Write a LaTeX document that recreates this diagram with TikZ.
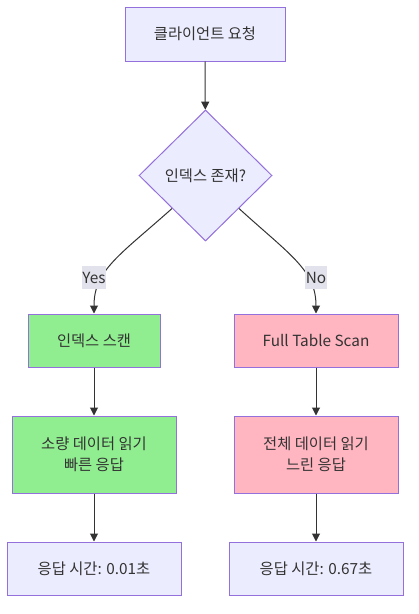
\documentclass[tikz,border=0pt]{standalone}
\usepackage{fontspec}
\setmainfont{Noto Sans CJK KR}
\usetikzlibrary{shapes.geometric,arrows.meta}
\definecolor{boxfill}{HTML}{ECECFF}
\definecolor{boxline}{HTML}{9370DB}
\definecolor{txt}{HTML}{333333}
\definecolor{greenfill}{HTML}{90EE90}
\definecolor{pinkfill}{HTML}{FFB6C1}
\definecolor{lblfill}{RGB}{226,226,236}
\tikzset{
  px/.style={x=0.75pt,y=-0.75pt},
  box/.style={draw=boxline,fill=boxfill,line width=0.75pt,text=txt,font=\fontsize{11.5pt}{16pt}\selectfont,align=center,inner sep=0pt},
  dec/.style={diamond,draw=boxline,fill=boxfill,line width=0.75pt,text=txt,font=\fontsize{11.5pt}{16pt}\selectfont,inner sep=0pt,minimum width=99.75pt,minimum height=98.25pt},
  lbl/.style={fill=lblfill,text=txt,font=\fontsize{11.5pt}{16pt}\selectfont,inner xsep=0.5pt,inner ysep=0pt,minimum height=17.25pt},
  conn/.style={draw=txt,line width=0.75pt,-{Triangle[length=6pt,width=6pt]}},
}
\begin{document}
\begin{tikzpicture}[px]
\useasboundingbox[fill=white] (0,0) rectangle (418,614);
\node[box,minimum width=120pt,minimum height=40.5pt] (top) at (205,34) {클라이언트 요청};
\node[dec] (d) at (205.5,175.5) {인덱스 존재?};
\node[box,fill=greenfill,minimum width=99pt,minimum height=39.75pt] (l1) at (94,340.5) {인덱스 스캔};
\node[box,fill=pinkfill,minimum width=123pt,minimum height=39.75pt] (r1) at (316,340.5) {Full Table Scan};
\node[box,fill=greenfill,minimum width=123pt,minimum height=57.75pt] (l2) at (94,454.5) {소량 데이터 읽기\\빠른 응답};
\node[box,fill=pinkfill,minimum width=123pt,minimum height=57.75pt] (r2) at (316,454.5) {전체 데이터 읽기\\느린 응답};
\node[box,minimum width=130.5pt,minimum height=39.75pt] (l3) at (94,568.5) {응답 시간: 0.01초};
\node[box,minimum width=130.5pt,minimum height=39.75pt] (r3) at (316,568.5) {응답 시간: 0.67초};
\draw[conn] (top) -- (d);
\draw[conn] (d.south west) .. controls (120,255) and (94,270) .. (l1.north);
\draw[conn] (d.south east) .. controls (290,255) and (316,270) .. (r1.north);
\node[lbl] (yes) at (94,277.5) {Yes};
\node[lbl] (no) at (316,277.5) {No};
\draw[conn] (l1) -- (l2);
\draw[conn] (r1) -- (r2);
\draw[conn] (l2) -- (l3);
\draw[conn] (r2) -- (r3);
\end{tikzpicture}
\end{document}
